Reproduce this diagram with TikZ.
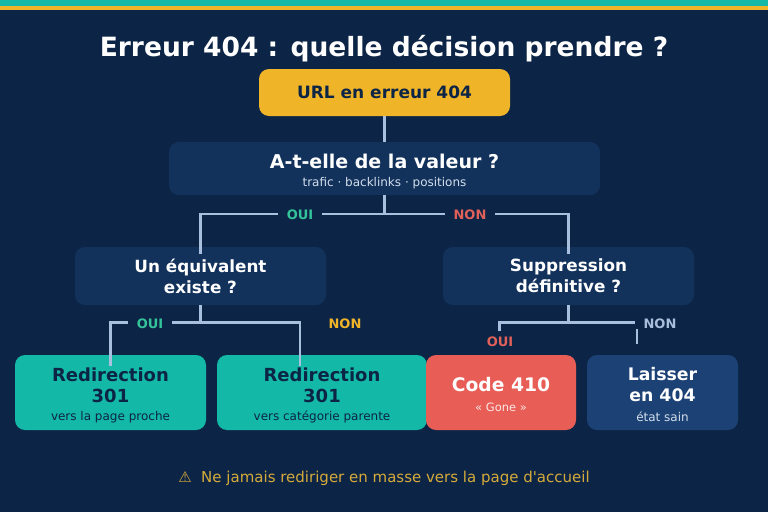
\documentclass[tikz,border=0pt]{standalone}
\usepackage{fontspec}
\setmainfont{DejaVu Sans}[Ligatures=TeXOff]
\usetikzlibrary{calc}
\definecolor{bg}{HTML}{0C2546}
\definecolor{tealc}{HTML}{14B8A6}
\definecolor{yel}{HTML}{F0B429}
\definecolor{qbox}{HTML}{12325C}
\definecolor{lbox}{HTML}{1C4275}
\definecolor{redc}{HTML}{E85D55}
\definecolor{linec}{HTML}{A8C0DE}
\definecolor{ouig}{HTML}{34C39A}
\definecolor{nonr}{HTML}{E0605A}
\definecolor{nonl}{HTML}{A9BEDA}
\definecolor{foot}{HTML}{D6AA3A}
\definecolor{subt}{HTML}{D3DEEC}
\tikzset{
  box/.style={rounded corners=10pt, draw=none, inner sep=0pt, align=center},
  conn/.style={draw=linec, line width=2.4pt},
  lab/.style={fill=bg, inner xsep=9pt, inner ysep=0.5pt, text height=9.5pt, text depth=0pt, font=\fontsize{13}{14}\selectfont\bfseries},
}
\begin{document}
\begin{tikzpicture}[x=1pt,y=-1pt]
\fill[bg] (0,0) rectangle (768,512);
\useasboundingbox (0,0) rectangle (768,512);
\fill[tealc] (0,0) rectangle (768,6);
\fill[yel] (0,6) rectangle (768,9.5);

\node[text=white, anchor=base, font=\fontsize{26.5}{30}\selectfont\bfseries] (title) at (384,56.5) {Erreur 404 : quelle décision prendre ?};

\node[box, fill=yel, minimum width=251pt, minimum height=47pt, text=bg, font=\fontsize{17}{20}\selectfont\bfseries] (url) at (384.5,92.5) {URL en erreur 404};

\node[box, fill=qbox, minimum width=431pt, minimum height=53pt] (val) at (384.5,168.5) {};
\node[text=white, font=\fontsize{19}{22}\selectfont\bfseries] (valt) at (384.5,161) {A-t-elle de la valeur ?};
\node[text=subt, font=\fontsize{12}{14}\selectfont] (vals) at (384.5,183) {trafic · backlinks · positions};

\node[box, fill=qbox, minimum width=251pt, minimum height=58pt, text=white, font=\fontsize{16.8}{21}\selectfont\bfseries] (eq) at (200.5,276) {Un équivalent\\existe ?};
\node[box, fill=qbox, minimum width=251pt, minimum height=58pt, text=white, font=\fontsize{16.8}{21}\selectfont\bfseries] (sup) at (568.5,276) {Suppression\\définitive ?};

% bottom boxes
\node[box, fill=tealc, minimum width=191pt, minimum height=75pt] (r1) at (110.5,392.5) {};
\node[text=bg, align=center, font=\fontsize{18}{21}\selectfont\bfseries] (r1t) at (110.5,385) {Redirection\\301};
\node[text=bg, font=\fontsize{12}{14}\selectfont] (r1s) at (110.5,417) {vers la page proche};

\node[box, fill=tealc, minimum width=210pt, minimum height=75pt] (r2) at (322,392.5) {};
\node[text=bg, align=center, font=\fontsize{18}{21}\selectfont\bfseries] (r2t) at (322,385) {Redirection\\301};
\node[text=bg, font=\fontsize{12}{14}\selectfont] (r2s) at (322,417) {vers catégorie parente};

\node[box, fill=redc, minimum width=150pt, minimum height=75pt] (c410) at (501,392.5) {};
\node[text=white, font=\fontsize{18.7}{21}\selectfont\bfseries] (c410t) at (501,385) {Code 410};
\node[text=white!85!redc, font=\fontsize{11.5}{13}\selectfont] (c410s) at (501,407) {« Gone »};

\node[box, fill=lbox, minimum width=151pt, minimum height=75pt] (lai) at (662.5,392.5) {};
\node[text=white, align=center, font=\fontsize{17.3}{21}\selectfont\bfseries] (lait) at (662.5,385) {Laisser\\en 404};
\node[text=subt, font=\fontsize{12}{14}\selectfont] (lais) at (662.5,417) {état sain};

% connectors
\draw[conn] (url.south) -- (val.north);
\coordinate (j1) at (384.5,214);
\draw[conn] (val.south) -- (j1) -| ([yshift=-7pt]eq.north);
\draw[conn] (j1) -| ([yshift=-7pt]sup.north);
\node[lab, text=ouig] (oui1) at (300,215) {OUI};
\node[lab, text=nonr] (non1) at (470,215) {NON};

\coordinate (j2) at (200.5,322.5);
\draw[conn] (eq.south) -- (j2) -| ([yshift=-11pt]r1.north);
\draw[conn] (j2) -| ([yshift=-11pt]r2.north-|300,0);
\node[lab, text=ouig] (oui2) at (150,324) {OUI};
\node[lab, text=yel] (non2) at (345,324) {NON};

\coordinate (j3) at (568.5,322.5);
\draw[conn] (sup.south) -- (j3) -| (499.5,331);
\draw[conn] (j3) -- (637,322.5) -- (637,344);
\node[lab, text=nonr] (oui3) at (500,342) {OUI};
\node[lab, text=nonl] (non3) at (660,324) {NON};

\node[text=foot, font=\fontsize{15}{17}\selectfont] (note) at (384,478) {⚠\ \ Ne jamais rediriger en masse vers la page d'accueil};
\end{tikzpicture}
\end{document}
